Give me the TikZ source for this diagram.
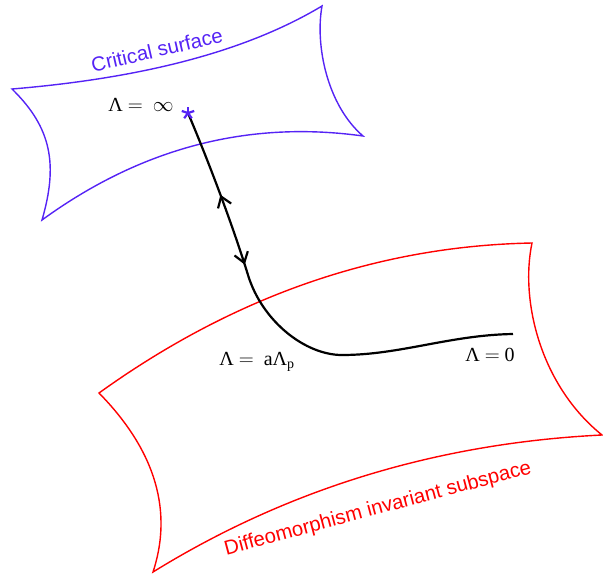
\documentclass[tikz,border=0pt]{standalone}
\usepackage[no-math]{fontspec}
\setmainfont{Liberation Serif}
\newfontfamily\surfSans{Liberation Sans}
\usetikzlibrary{arrows.meta,decorations.markings}
\definecolor{critBlue}{RGB}{85,35,245}

\begin{document}
\begin{tikzpicture}[x=1pt, y=-1pt,
    surfCrit/.style={draw=critBlue, line width=1.4pt},
    surfDiff/.style={draw=red, line width=1.4pt},
    surfLabel/.style={font=\surfSans\fontsize{20.3}{24}\selectfont, inner sep=0pt},
    lamLabel/.style={font=\fontsize{20}{24}\selectfont, inner sep=0pt},
    flowArrow/.style={line width=2.2pt, decoration={markings,
        mark=at position 88pt with {\arrowreversed{Straight Barb[length=10pt, width=14pt]}},
        mark=at position 162pt with {\arrow{Straight Barb[length=10pt, width=14pt]}}},
        postaction={decorate}}]

    \useasboundingbox (0,0) rectangle (603,574);

    % Critical surface
    \draw[surfCrit] (12,89) .. controls (144,78) and (247,51) .. (322,6)
        .. controls (315,45) and (327,105) .. (363,136)
        .. controls (248,120) and (141,148) .. (42,220)
        .. controls (58,165) and (52,128) .. cycle;
    \node[surfLabel, text=critBlue, rotate=13] (critLabel) at (157,50) {Critical surface};

    % Diffeomorphism invariant subspace
    \draw[surfDiff] (99,393) .. controls (234,296) and (378,246) .. (532,243)
        .. controls (520,300) and (540,385) .. (602,435)
        .. controls (439,443) and (289,488) .. (153,572)
        .. controls (175,505) and (150,445) .. cycle;
    \node[surfLabel, text=red, rotate=15] (diffLabel) at (378,509) {Diffeomorphism invariant subspace};

    % Flow
    \coordinate (lamInf) at (188,113);
    \coordinate (lamBend) at (248,275);
    \coordinate (lamP) at (342,355);
    \coordinate (lamZero) at (513,334);
    \draw[flowArrow] (lamInf) .. controls (208,160) and (233,226) .. (lamBend)
        .. controls (262,321) and (305,355) .. (lamP)
        .. controls (400,355) and (450,335) .. (lamZero);
    \foreach \ang in {90,162,234,306,18}
        \draw[critBlue, line width=2.2pt] (lamInf) -- ++(\ang:6.5pt);

    % Labels
    \node[lamLabel] (infLabel) at (141,105) {Λ $=$ ~$\infty$};
    \node[lamLabel] (pLabel) at (257,362) {Λ $=$ ~aΛ\textsubscript{p}};
    \node[lamLabel] (zeroLabel) at (490,355) {Λ $=$ 0};
\end{tikzpicture}
\end{document}
